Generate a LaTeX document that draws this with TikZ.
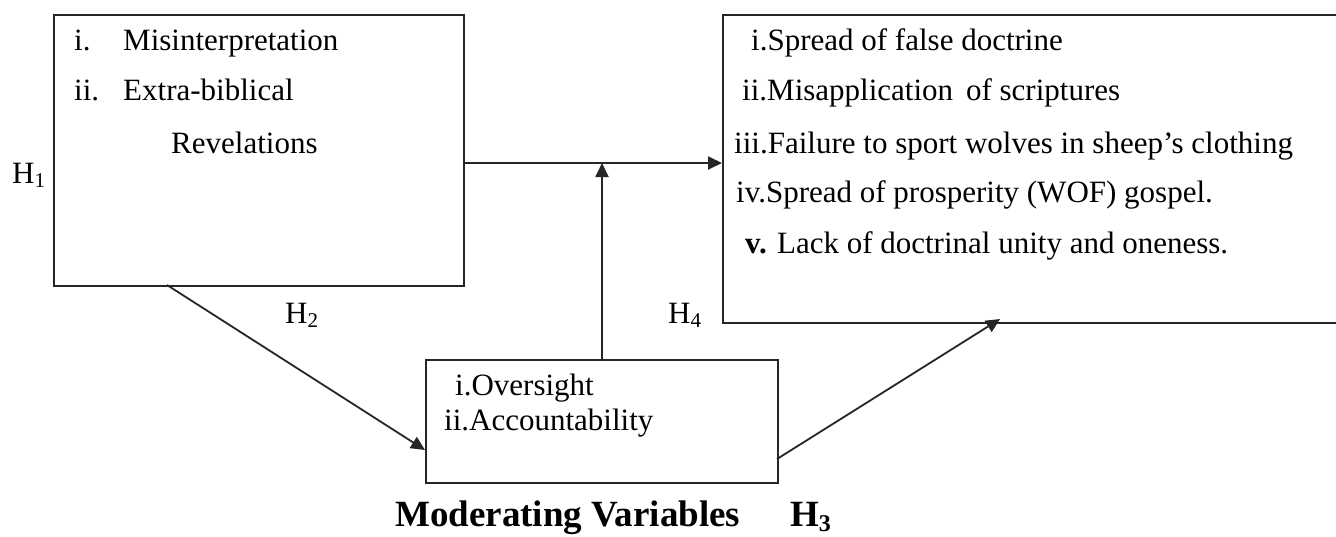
\documentclass[tikz,border=0pt]{standalone}
\usepackage{fontspec}
\setmainfont{Liberation Serif}
\usetikzlibrary{arrows.meta}
\newcommand\Hlab[1]{H\raisebox{-4pt}{\fontsize{21}{21}\selectfont #1}}
\tikzset{
  box/.style={draw=black!85, line width=2pt, inner sep=0pt, anchor=north west},
  txt/.style={inner sep=0pt, anchor=base west, font=\fontsize{31}{31}\selectfont},
  btxt/.style={inner sep=0pt, anchor=base west, font=\fontsize{37}{37}\selectfont\bfseries},
  conn/.style={line width=1.8pt, draw=black!85},
  arr/.style={conn, -{Triangle[length=14pt,width=13pt]}}
}
\begin{document}
\begin{tikzpicture}[x=1pt,y=-1pt]
\useasboundingbox (0,0) rectangle (1336,536);
\fill[white] (0,0) rectangle (1336,536);
% boxes
\node[box, minimum width=410pt, minimum height=271pt] (A) at (53,14) {};
\node[box, minimum width=700pt, minimum height=308pt] (C) at (722,14) {};
\node[box, minimum width=352pt, minimum height=123pt] (B) at (425,359) {};
% left box text
\node[txt] (a1n) at (74,50) {i.};
\node[txt] (a1t) at (123,50) {Misinterpretation};
\node[txt] (a2n) at (74,100) {ii.};
\node[txt] (a2t) at (123,100) {Extra-biblical};
\node[txt] (a3t) at (171,153) {Revelations};
% right box text
\node[txt] (c1) at (751,50) {i.Spread of false doctrine};
\node[txt] (c2) at (742,100) {ii.Misapplication\, of scriptures};
\node[txt] (c3) at (734,153) {iii.Failure to sport wolves in sheep\textquoteright s clothing};
\node[txt] (c4) at (736,202) {iv.Spread of prosperity (WOF) gospel.};
\node[txt] (c5) at (745,253) {\textbf{v.} Lack of doctrinal unity and oneness.};
% middle box text
\node[txt] (b1) at (455,395) {i.Oversight};
\node[txt] (b2) at (444,430) {ii.Accountability};
% labels
\node[txt] (h1) at (12,183) {\Hlab{1}};
\node[txt] (h2) at (285,323) {\Hlab{2}};
\node[txt] (h4) at (668,323) {\Hlab{4}};
\node[btxt] (mv) at (395,526) {Moderating Variables};
\node[btxt] (h3) at (790,526) {H\raisebox{-5pt}{\fontsize{24}{24}\selectfont 3}};
% connectors
\coordinate (j) at (B.north |- 0,163);
\coordinate (aS) at (167,285);
\coordinate (bW) at (425,450);
\coordinate (bE) at (777,459);
\coordinate (cS) at (1000,319);
\draw[conn] (A.east |- j) -- (j);
\draw[arr] (j) -- (C.west |- j);
\draw[arr] (B.north) -- (j);
\draw[arr] (aS) -- (bW);
\draw[arr] (bE) -- (cS);
\end{tikzpicture}
\end{document}
